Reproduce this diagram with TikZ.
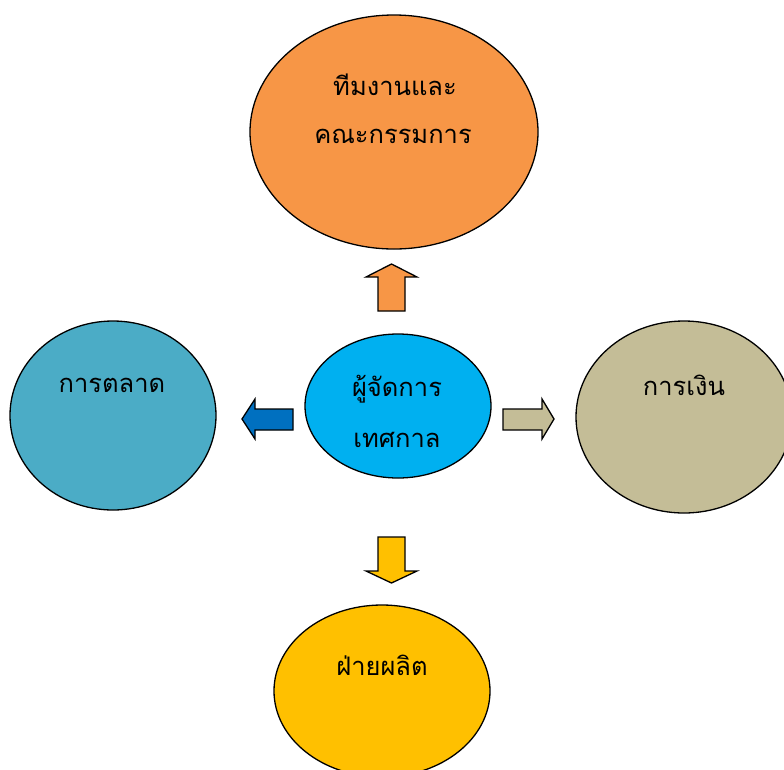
\documentclass[tikz,border=0pt]{standalone}
\usepackage{fontspec}
\usetikzlibrary{shapes.geometric}
\newfontfamily\thaifont[Script=Thai]{Loma}
\definecolor{corange}{HTML}{F79646}
\definecolor{cblue}{HTML}{00B0F0}
\definecolor{cteal}{HTML}{4BACC6}
\definecolor{ctan}{HTML}{C4BD97}
\definecolor{cyellow}{HTML}{FFC000}
\definecolor{cdblue}{HTML}{0070C0}
\begin{document}
\begin{tikzpicture}[x=1pt,y=-1pt,
  bub/.style={ellipse, draw=black, line width=1.3pt, inner sep=0pt},
  lbl/.style={font=\thaifont\fontsize{25.5}{30}\selectfont, inner sep=0pt, text=black},
  arr/.style={draw=black, line width=1.3pt, line join=miter}]
\useasboundingbox (0,0) rectangle (784,769);
\clip (0,0) rectangle (784,769);
\fill[white] (0,0) rectangle (784,769);
% ellipses
\node[bub, fill=corange, minimum width=288pt, minimum height=234pt] (team) at (394,132) {};
\node[bub, fill=cblue, minimum width=186pt, minimum height=144pt] (mgr) at (398,406) {};
\node[bub, fill=cteal, minimum width=206pt, minimum height=189pt] (mkt) at (113,415.5) {};
\node[bub, fill=ctan, minimum width=216pt, minimum height=192pt] (fin) at (684,417) {};
\node[bub, fill=cyellow, minimum width=216pt, minimum height=172pt] (prod) at (382,691) {};
% labels
\node[lbl] (t1) at (395,85) {ทีมงานและ};
\node[lbl] (t2) at (393,136) {คณะกรรมการ};
\node[lbl] (m1) at (397,389) {ผู้จัดการ};
\node[lbl] (m2) at (397,440) {เทศกาล};
\node[lbl] (k1) at (112,385) {การตลาด};
\node[lbl] (f1) at (684,385) {การเงิน};
\node[lbl] (p1) at (382,665) {ฝ่ายผลิต};
% block arrows
\draw[arr, fill=corange] (378,311) -- (378,277) -- (366,277) -- (391.5,264) -- (417,277) -- (405,277) -- (405,311) -- cycle;
\draw[arr, fill=cyellow] (378,537) -- (378,571) -- (366,571) -- (391.5,583) -- (417,571) -- (405,571) -- (405,537) -- cycle;
\draw[arr, fill=cdblue] (293,409) -- (255,409) -- (255,399) -- (242,419) -- (255,439) -- (255,430) -- (293,430) -- cycle;
\draw[arr, fill=ctan] (503,409) -- (542,409) -- (542,399) -- (554,419) -- (542,439) -- (542,430) -- (503,430) -- cycle;
\end{tikzpicture}
\end{document}
